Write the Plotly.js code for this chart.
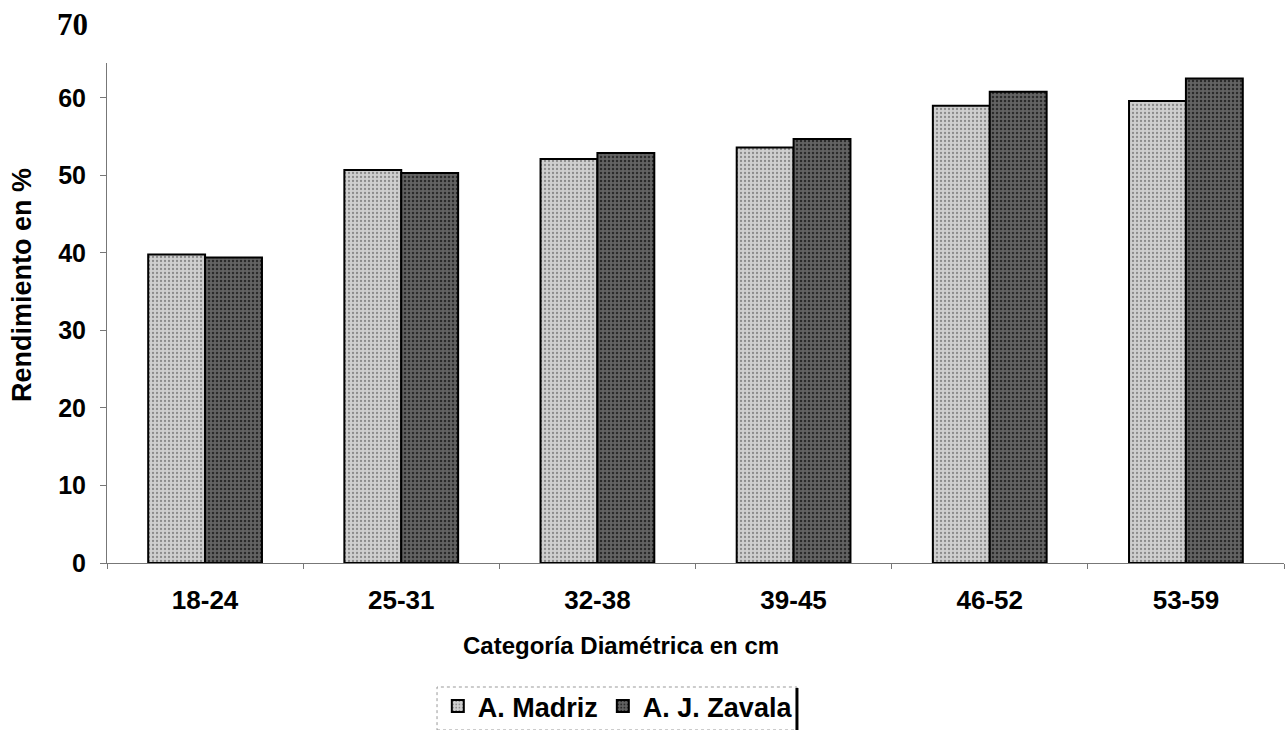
<!DOCTYPE html>
<html>
<head>
<meta charset="utf-8">
<script src="https://cdn.plot.ly/plotly-3.0.1.min.js"></script>
<style>html,body{margin:0;padding:0;background:#fff;}#chart{width:1287px;height:730px;}</style>
</head>
<body>
<div id="chart"></div>
<script>
const categories = ["18-24", "25-31", "32-38", "39-45", "46-52", "53-59"];
const madriz = [39.8, 50.7, 52.1, 53.6, 59.0, 59.6];
const zavala = [39.4, 50.3, 52.9, 54.7, 60.8, 62.5];
const seriesNames = ["A. Madriz", "A. J. Zavala"];
const yTicks = [0, 10, 20, 30, 40, 50, 60];

const F = "Liberation Sans, Arial, sans-serif";

const traces = [
  {type: "bar", name: seriesNames[0], x: categories, y: madriz,
   marker: {color: "#c4c4c4", line: {color: "#000", width: 2},
            pattern: {shape: ".", fgcolor: "#8a8a8a", bgcolor: "#cfcfcf", size: 4, solidity: 0.25}}},
  {type: "bar", name: seriesNames[1], x: categories, y: zavala,
   marker: {color: "#555555", line: {color: "#000", width: 2},
            pattern: {shape: ".", fgcolor: "#2a2a2a", bgcolor: "#636363", size: 4, solidity: 0.3}}}
];

const layout = {
  width: 1287, height: 730,
  margin: {l: 107, r: 3, t: 63, b: 167, autoexpand: false},
  paper_bgcolor: "#fff", plot_bgcolor: "#fff",
  barmode: "group", bargap: 0.42, bargroupgap: 0,
  showlegend: true,
  legend: {orientation: "h", x: 0.434, xanchor: "center", y: -0.238, yanchor: "top",
           font: {family: F, size: 27, color: "#000", weight: 700},
           bgcolor: "rgba(0,0,0,0)", borderwidth: 0, itemwidth: 30, traceorder: "normal"},
  xaxis: {
    automargin: false,
    showline: true, linecolor: "#777", linewidth: 1,
    ticks: "outside", ticklen: 5, tickcolor: "#777", tickson: "boundaries",
    showgrid: false, zeroline: false, ticklabelstandoff: 14,
    tickfont: {family: F, size: 26, color: "#000", weight: 700}
  },
  yaxis: {
    automargin: false,
    range: [0, 64.5], tickvals: yTicks, ticktext: yTicks.map(String),
    showline: true, linecolor: "#777", linewidth: 1,
    ticks: "outside", ticklen: 6, tickcolor: "#777",
    showgrid: false, zeroline: false, ticklabelstandoff: 9,
    tickfont: {family: F, size: 25, color: "#000", weight: 700}
  },
  annotations: [
    {text: "70", xref: "paper", x: -0.0144, xanchor: "right", yref: "paper", y: 1.076, yanchor: "middle",
     showarrow: false, font: {family: "Liberation Serif, Times New Roman, serif", size: 31, color: "#000", weight: 700}},
    {text: "Rendimiento en %", xref: "paper", x: -0.0722, xanchor: "center", yref: "paper", y: 0.556, yanchor: "middle",
     textangle: -90, showarrow: false, font: {family: F, size: 27, color: "#000", weight: 700}},
    {text: "Categoría Diamétrica en cm", xref: "paper", x: 0.437, xanchor: "center", yref: "paper", y: -0.164, yanchor: "middle",
     showarrow: false, font: {family: F, size: 24, color: "#000", weight: 700}}
  ],
  shapes: [
    {type: "rect", xref: "paper", yref: "paper", x0: 0.2804, x1: 0.5862, y0: -0.334, y1: -0.248,
     line: {color: "#999", width: 1, dash: "dot"}, fillcolor: "rgba(0,0,0,0)"},
    {type: "line", xref: "paper", yref: "paper", x0: 0.5862, x1: 0.5862, y0: -0.334, y1: -0.25,
     line: {color: "#000", width: 3}}
  ]
};

Plotly.newPlot("chart", traces, layout, {displayModeBar: false, staticPlot: true});
</script>
</body>
</html>
